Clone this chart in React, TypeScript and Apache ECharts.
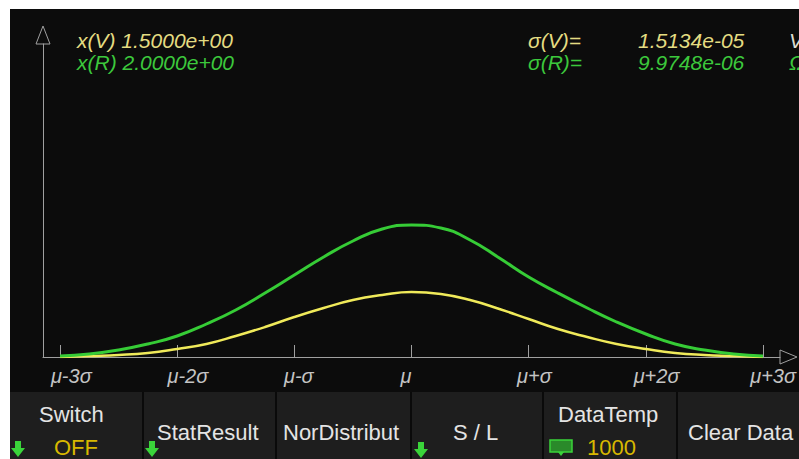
import React, { useEffect, useRef } from 'react';
import * as echarts from 'echarts';

// Normalised positions (in σ from μ) and curve heights
const sigmaPositions = [-3, -2.75, -2.5, -2.25, -2, -1.75, -1.5, -1.25, -1, -0.75, -0.5, -0.25, 0, 0.25, 0.5, 0.75, 1, 1.25, 1.5, 1.75, 2, 2.25, 2.5, 2.75, 3];
const greenValues = [1, 3, 7, 13, 21, 33, 47, 64, 82, 100, 116, 128, 132, 129, 117, 99, 80, 64, 49, 35, 23, 13, 7, 3, 1];
const yellowValues = [0, 1, 2, 4, 8, 13, 21, 30, 40, 49, 57, 62, 65, 63, 57, 48, 38, 28, 20, 13, 8, 4, 2, 1, 0];

const tickValues = [-3, -2, -1, 0, 1, 2, 3];
const tickLabels = ['μ-3σ', 'μ-2σ', 'μ-σ', 'μ', 'μ+σ', 'μ+2σ', 'μ+3σ'];

const readoutV = ['x(V) 1.5000e+00', 'σ(V)=', '1.5134e-05', 'V'];
const readoutR = ['x(R) 2.0000e+00', 'σ(R)=', '9.9748e-06', 'Ω'];

const buttonLabels = ['Switch', 'StatResult', 'NorDistribut', 'S / L', 'DataTemp', 'Clear Data'];
const buttonValues = ['OFF', '', '', '', '1000', ''];

const GREEN = '#36cc36';
const YELLOW = '#f0ea5a';
const AXIS = '#a0a0a0';
const FONT = '"Liberation Sans", Arial, sans-serif';
const GRID_TOP = 44;
const BASE_Y = 357;

function downArrow(cx: number, top: number) {
  return {
    type: 'polygon',
    shape: {
      points: [
        [cx - 3, top], [cx + 3, top], [cx + 3, top + 7], [cx + 7, top + 7],
        [cx, top + 16], [cx - 7, top + 7], [cx - 3, top + 7],
      ],
    },
    style: { fill: '#3ad43a' },
  };
}

export default function App() {
  const ref = useRef<HTMLDivElement>(null);
  useEffect(() => {
    if (!ref.current) return;
    const chart = echarts.init(ref.current, undefined, { renderer: 'svg' });

    const textStyleTop = { fontSize: 21, fontStyle: 'italic', fontFamily: FONT };
    const btnText = { fontSize: 22, fontFamily: FONT, fill: '#e4e4e4' };
    const Y1 = 40;
    const Y2 = 62;

    const graphics: any[] = [
      { type: 'rect', shape: { x: 0, y: 0, width: 799, height: 9 }, style: { fill: '#ffffff' } },
      { type: 'rect', shape: { x: 0, y: 0, width: 10, height: 459 }, style: { fill: '#ffffff' } },
      // axis arrows
      { type: 'polygon', shape: { points: [[43, GRID_TOP - 18], [36, GRID_TOP], [50, GRID_TOP]] }, style: { fill: 'none', stroke: AXIS, lineWidth: 1 } },
      { type: 'polygon', shape: { points: [[780, 350], [797, 357], [780, 364]] }, style: { fill: 'none', stroke: AXIS, lineWidth: 1 } },
      // readouts
      { type: 'text', x: 77, y: Y1, style: { ...textStyleTop, text: readoutV[0], fill: '#e4dc82', verticalAlign: 'middle' } },
      { type: 'text', x: 77, y: Y2, style: { ...textStyleTop, text: readoutR[0], fill: '#3cc83c', verticalAlign: 'middle' } },
      { type: 'text', x: 528, y: Y1, style: { ...textStyleTop, text: readoutV[1], fill: '#e4dc82', verticalAlign: 'middle' } },
      { type: 'text', x: 528, y: Y2, style: { ...textStyleTop, text: readoutR[1], fill: '#3cc83c', verticalAlign: 'middle' } },
      { type: 'text', x: 638, y: Y1, style: { ...textStyleTop, text: readoutV[2], fill: '#e4dc82', verticalAlign: 'middle' } },
      { type: 'text', x: 638, y: Y2, style: { ...textStyleTop, text: readoutR[2], fill: '#3cc83c', verticalAlign: 'middle' } },
      { type: 'text', x: 789, y: Y1, style: { ...textStyleTop, text: readoutV[3], fill: '#dcdcd0', verticalAlign: 'middle' } },
      { type: 'text', x: 789, y: Y2, style: { ...textStyleTop, text: readoutR[3], fill: '#3cc83c', verticalAlign: 'middle' } },
      // button panel
      { type: 'rect', shape: { x: 10, y: 392, width: 789, height: 67 }, style: { fill: '#1e1e1e' } },
    ];
    [143, 276, 411, 543, 677].forEach((x) => {
      graphics.push({ type: 'rect', shape: { x: x - 1, y: 392, width: 2, height: 67 }, style: { fill: '#0a0a0a' } });
    });
    const btnPos = [
      { x: 39, y: 414 },
      { x: 157, y: 432 },
      { x: 283, y: 432 },
      { x: 453, y: 432 },
      { x: 558, y: 414 },
      { x: 688, y: 432 },
    ];
    buttonLabels.forEach((t, i) => {
      graphics.push({ type: 'text', x: btnPos[i].x, y: btnPos[i].y, style: { ...btnText, text: t, verticalAlign: 'middle' } });
    });
    graphics.push({ type: 'text', x: 54, y: 447, style: { ...btnText, text: buttonValues[0], fill: '#d8b800', verticalAlign: 'middle' } });
    graphics.push({ type: 'text', x: 587, y: 447, style: { ...btnText, text: buttonValues[4], fill: '#d8b800', verticalAlign: 'middle' } });
    graphics.push(downArrow(18, 441));
    graphics.push(downArrow(152, 441));
    graphics.push(downArrow(421, 442));
    // keyboard icon
    graphics.push({ type: 'rect', shape: { x: 550, y: 440, width: 22, height: 12 }, style: { fill: '#2a8a2a', stroke: '#3ad43a', lineWidth: 1.5 } });
    graphics.push({ type: 'polygon', shape: { points: [[558, 452], [564, 452], [561, 456]] }, style: { fill: '#3ad43a' } });

    chart.setOption({
      animation: false,
      backgroundColor: '#0c0c0c',
      grid: [
        { left: 43, right: 19, top: GRID_TOP, bottom: 459 - BASE_Y },
        { left: 34, right: 28, top: GRID_TOP, bottom: 459 - BASE_Y },
      ],
      xAxis: [
        {
          type: 'value', gridIndex: 0, min: -3.145, max: 3.145,
          axisLine: { show: true, onZero: false, lineStyle: { color: AXIS, width: 1 } },
          axisTick: { show: true, inside: true, length: 12, customValues: tickValues, lineStyle: { color: AXIS } },
          axisLabel: { show: false },
          splitLine: { show: false },
        },
        {
          type: 'value', gridIndex: 1, min: -3.145, max: 3.145,
          axisLine: { show: false },
          axisTick: { show: false },
          axisLabel: {
            show: true, customValues: tickValues, align: 'left', margin: 9,
            color: '#c4c4c4', fontSize: 20, fontStyle: 'italic', fontFamily: FONT,
            formatter: (v: number) => tickLabels[tickValues.indexOf(Math.round(v))] ?? '',
          },
          splitLine: { show: false },
        },
      ],
      yAxis: [
        {
          type: 'value', gridIndex: 0, min: 0, max: BASE_Y - GRID_TOP,
          axisLine: { show: true, onZero: false, lineStyle: { color: AXIS, width: 1 } },
          axisTick: { show: false }, axisLabel: { show: false }, splitLine: { show: false },
        },
        { type: 'value', gridIndex: 1, min: 0, max: BASE_Y - GRID_TOP, show: false },
      ],
      series: [
        {
          type: 'line', xAxisIndex: 0, yAxisIndex: 0, smooth: true, showSymbol: false,
          lineStyle: { color: YELLOW, width: 2.5 },
          data: sigmaPositions.map((s, i) => [s, yellowValues[i]]),
        },
        {
          type: 'line', xAxisIndex: 0, yAxisIndex: 0, smooth: true, showSymbol: false,
          lineStyle: { color: GREEN, width: 3 },
          data: sigmaPositions.map((s, i) => [s, greenValues[i]]),
        },
      ],
      graphic: graphics,
    });
    return () => chart.dispose();
  }, []);
  return <div ref={ref} style={{ position: 'fixed', left: 0, top: 0, width: 799, height: 459 }} />;
}
